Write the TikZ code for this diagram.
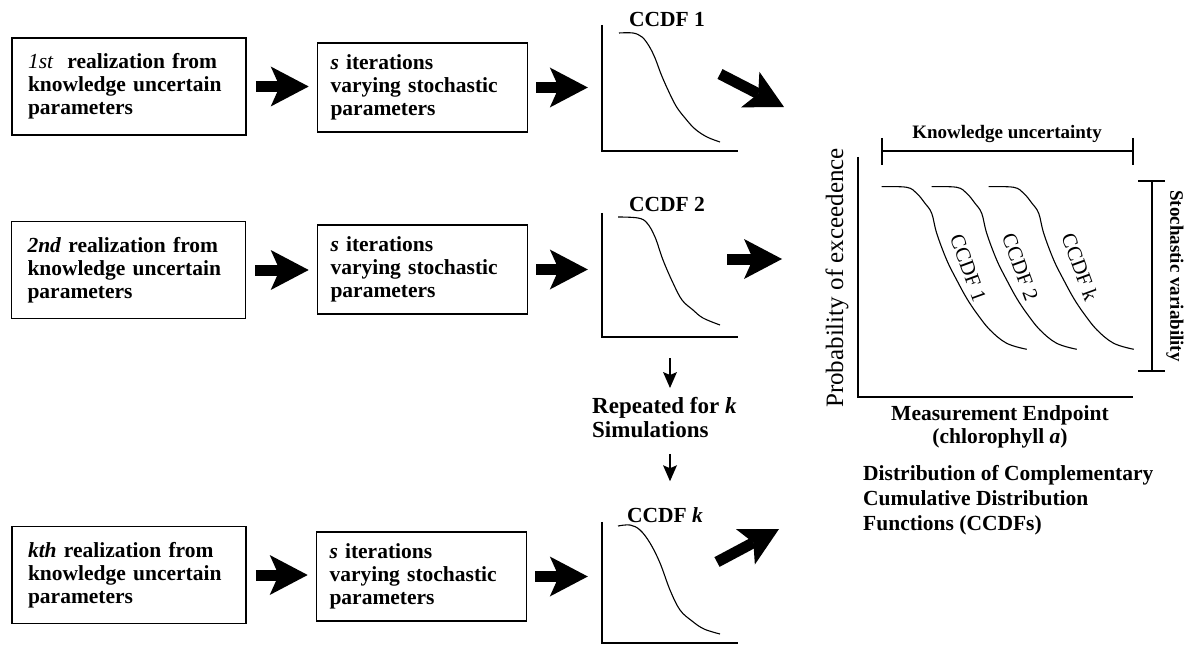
\documentclass[tikz,border=0pt]{standalone}
\usepackage{fontspec}
\setmainfont{Liberation Serif}
\usetikzlibrary{arrows.meta}
\begin{document}
\begin{tikzpicture}[x=1pt,y=-1pt,
  boxA/.style={draw,line width=1.6pt,minimum height=97pt,text width=202pt,inner xsep=16pt,inner ysep=0pt,align=left,font=\fontsize{21.5}{23}\selectfont\bfseries},
  boxB/.style={draw,line width=1.6pt,minimum height=89pt,text width=184pt,inner xsep=13pt,inner ysep=0pt,align=left,font=\fontsize{21.5}{23}\selectfont\bfseries},
  plotbox/.style={minimum width=136pt,inner sep=0pt},
  axis/.style={line width=2pt},
  curve/.style={line width=1.1pt},
  lbl/.style={inner sep=0pt,font=\fontsize{21.5}{23}\selectfont\bfseries},
  bigarrow/.style={line width=11pt,-{Stealth[length=38pt,width=40pt,inset=9pt,line width=0pt]}},
  smallarrow/.style={line width=2pt,-{Stealth[length=16pt,width=14pt,inset=3pt,line width=0pt]}},
  bracket/.style={line width=1.1pt}]
\useasboundingbox (0,0) rectangle (1188,647);

% row 1
\node[boxA] (a1) at (129,86.5) {{\mdseries\itshape 1st}\ \ realization from\\knowledge uncertain\\parameters};
\node[boxB] (b1) at (422.5,87.5) {\textit{s} iterations\\varying stochastic\\parameters};
\node[plotbox,minimum height=126pt] (p1) at (670,88) {};
\draw[axis] (p1.north west) |- (p1.south east);
\node[lbl] (l1) at (667,19.5) {CCDF 1};
\draw[curve] plot[smooth,tension=0.6] coordinates {(619,33) (633,33) (642,37) (649,46) (655,58) (661,74) (668,90) (676,106) (685,118) (695,129) (707,137) (720,142)};
\draw[bigarrow,shorten <=9pt,shorten >=8pt] (a1.east) -- (a1.east -| b1.west);
\draw[bigarrow,shorten <=8pt,shorten >=14pt] (b1.east) -- (b1.east -| p1.west);

% row 2
\node[boxA] (a2) at (128.5,270) {\textit{2nd} realization from\\knowledge uncertain\\parameters};
\node[boxB] (b2) at (422.5,269.5) {\textit{s} iterations\\varying stochastic\\parameters};
\node[plotbox,minimum height=124pt] (p2) at (670,275) {};
\draw[axis] (p2.north west) |- (p2.south east);
\node[lbl] (l2) at (667,204) {CCDF 2};
\draw[curve] plot[smooth,tension=0.6] coordinates {(618,217) (638,218) (647,223) (655,237) (663,260) (673,283) (682,300) (693,310) (703,318) (720,325)};
\draw[bigarrow,shorten <=9pt,shorten >=8pt] (a2.east) -- (a2.east -| b2.west);
\draw[bigarrow,shorten <=8pt,shorten >=14pt] (b2.east) -- (b2.east -| p2.west);

% repeated
\node[lbl,align=left,anchor=north west,font=\fontsize{23}{23.5}\selectfont\bfseries] (rep) at (592,397.5) {Repeated for \textit{k}\\Simulations};
\draw[smallarrow,shorten <=21pt,shorten >=9.5pt] (p2.south) -- (p2.south |- rep.north);

% row k
\node[boxA] (a3) at (129,575) {\textit{kth} realization from\\knowledge uncertain\\parameters};
\node[boxB] (b3) at (421.5,576.5) {\textit{s} iterations\\varying stochastic\\parameters};
\node[plotbox,minimum height=121pt] (pk) at (670,582.5) {};
\draw[axis] (pk.north west) |- (pk.south east);
\node[lbl] (lk) at (665,515) {CCDF \textit{k}};
\draw[curve] plot[smooth,tension=0.6] coordinates {(618,526) (630,525) (640,530) (650,543) (660,563) (670,590) (680,610) (692,621) (704,629) (720,634)};
\draw[bigarrow,shorten <=9pt,shorten >=8pt] (a3.east) -- (a3.east -| b3.west);
\draw[bigarrow,shorten <=8pt,shorten >=14pt] (b3.east) -- (b3.east -| pk.west);
\draw[smallarrow,shorten <=16pt,shorten >=26pt] (p2.south |- rep.south) -- (p2.south |- lk.north);

% big plot
\node[minimum width=275pt,minimum height=240pt,inner sep=0pt] (big) at (995.5,277) {};
\draw[line width=2.4pt] (big.north west) |- (big.south east);
\node[rotate=90,inner sep=0pt,font=\fontsize{25}{25}\selectfont] (ylab) at (837,278) {Probability of exceedence};
\node[anchor=north,align=center,inner sep=0pt,font=\fontsize{21.5}{23}\selectfont\bfseries] (xlab) at (1000,405) {Measurement Endpoint\\(chlorophyll \textit{a})};
\node[anchor=north west,align=left,inner sep=0pt,font=\fontsize{21.5}{25}\selectfont\bfseries] (dist) at (863,465) {Distribution of Complementary\\Cumulative Distribution\\Functions (CCDFs)};

% brackets
\draw[bracket] (882,151) -- (1133,151);
\draw[bracket] (882,138) -- (882,165);
\draw[bracket] (1133,138) -- (1133,165);
\node[inner sep=0pt,font=\fontsize{19}{19}\selectfont\bfseries] (ku) at (1007,134) {Knowledge uncertainty};
\draw[bracket] (1152,181) -- (1152,371);
\draw[bracket] (1138,181) -- (1165,181);
\draw[bracket] (1138,371) -- (1165,371);
\node[rotate=-90,inner sep=0pt,font=\fontsize{19}{19}\selectfont\bfseries] (sv) at (1175,276) {Stochastic variability};

% big curves
\foreach \s in {0,50,107}{
  \draw[curve,xshift=\s pt] plot[smooth,tension=0.6] coordinates {(881.7,186.7) (906.7,187.3) (916.7,193.3) (925,203.3) (931.7,213.3) (936.7,233.3) (946.7,260) (956.7,280) (966.7,298.3) (976.7,313.3) (990,330) (1006.7,343.3) (1026.7,349.3)};
}
\node[rotate=-70,inner sep=0pt,font=\fontsize{21}{21}\selectfont] (c1) at (968,268) {CCDF 1};
\node[rotate=-70,inner sep=0pt,font=\fontsize{21}{21}\selectfont] (c2) at (1020,267) {CCDF 2};
\node[rotate=-70,inner sep=0pt,font=\fontsize{21}{21}\selectfont] (ck) at (1080,267) {CCDF k};

% arrows to the distribution
\coordinate (t1) at (720,74);
\coordinate (h1) at (784,107);
\draw[bigarrow] (t1) -- (h1);
\coordinate (t2) at (727,259);
\coordinate (h2) at (782,259);
\draw[bigarrow] (t2) -- (h2);
\coordinate (t3) at (717,562);
\coordinate (h3) at (779,529);
\draw[bigarrow] (t3) -- (h3);
\end{tikzpicture}
\end{document}
